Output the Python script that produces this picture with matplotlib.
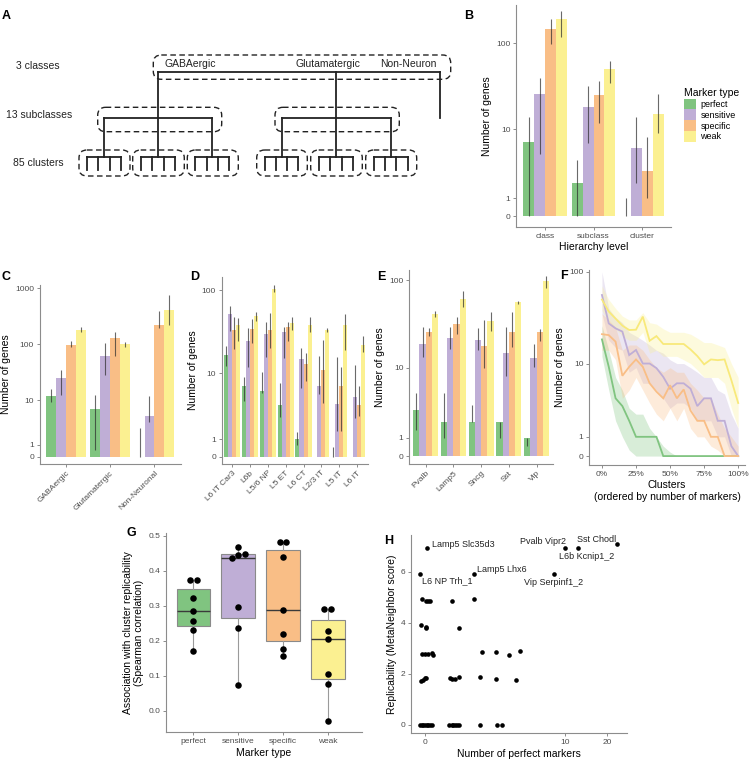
import numpy as np
import matplotlib.pyplot as plt
from matplotlib.patches import FancyBboxPatch, Patch

plt.rcParams['font.family'] = ['Liberation Sans', 'DejaVu Sans']

W, H = 750, 759

markers = ["perfect", "sensitive", "specific", "weak"]
colors = ["#80c480", "#bfaed6", "#f9be86", "#fbf091"]
nan = np.nan

# B: markers per hierarchy level
b_groups = ["class", "subclass", "cluster"]
b_val = [[7.1, 2.0, 0], [25.6, 18.3, 6.0], [145, 25, 3.0], [190, 50, 15]]
b_lo = [[0, 0, 0], [5.0, 6.8, 2.0], [98, 12, 1.0], [119, 35, 9.1]]
b_hi = [[14, 4.2, 1.0], [40, 32, 14], [189, 37, 8.1], [237, 62, 26]]

# C: classes
c_groups = ["GABAergic", "Glutamatergic", "Non-Neuronal"]
c_val = [[11.9, 6.9, 0], [25, 63, 5.1], [97, 130, 220], [180, 101, 408]]
c_lo = [[9.4, 0.56, 0], [12.5, 28, 3.9], [91, 62, 193], [166, 91, 220]]
c_hi = [[15.9, 12.5, 3.0], [35, 107, 11.9], [115, 168, 396], [200, 110, 756]]

# D: glutamatergic subclasses
d_groups = ["L6 IT Car3", "L6b", "L5/6 NP", "L5 ET", "L6 CT", "L2/3 IT", "L5 IT", "L6 IT"]
d_val = [[16.7, 6.9, 6.0, 4.0, 1.0, 0, 0, 0],
         [52.5, 24.6, 29.6, 31.6, 14.9, 6.9, 4.1, 5.1],
         [33.4, 34.3, 33.4, 36, 12.9, 11, 6.9, 4.0],
         [38.7, 48.8, 104, 40.5, 38.3, 33.4, 38.3, 21.8]]
d_lo = [[12.3, 4.5, 5.6, 2.7, 0.66, nan, 0, nan],
        [32.8, 11.8, 15.9, 15.3, 6.5, 5.5, 1.56, 2.6],
        [19.7, 23.5, 20, 24.8, 8.0, 4.2, 1.55, 2.8],
        [24.6, 43.2, 96, 33.4, 31.9, 31.6, 19.1, 18.3]]
d_hi = [[21.4, 8.9, 10.3, 7.5, 1.5, nan, 0.56, nan],
        [64.8, 35, 42, 36, 20.4, 16.3, 15.6, 12.6],
        [48.4, 44.9, 53, 42, 17.4, 25.3, 12, 6.9],
        [46, 55, 116, 47.4, 48.4, 35.7, 51.6, 28.3]]

# E: GABAergic subclasses
e_groups = ["Pvalb", "Lamp5", "Sncg", "Sst", "Vip"]
e_val = [[3.0, 2.0, 2.0, 2.0, 1.0],
         [18.9, 21.7, 20.8, 14.9, 12.8],
         [25.7, 31.7, 17.8, 25.7, 25.7],
         [41, 61, 34.6, 55.9, 98.5]]
e_lo = [[1.5, 1.0, 2.0, 1.0, 0.52],
        [13.4, 16.5, 16, 8.0, 10.3],
        [23.3, 24.1, 9.8, 17.4, 20],
        [38.3, 49, 26.3, 54, 80.6]]
e_hi = [[5.0, 5.0, 3.5, 2.0, 1.0],
        [29, 29, 28.3, 29, 18.9],
        [28.3, 38.3, 35.2, 43, 27.8],
        [44.7, 75, 43.8, 57.9, 111]]

# F: clusters ordered by number of markers
f_pct = [0, 5, 10, 15, 20, 25, 30, 35, 40, 45, 50, 55, 60, 65, 70, 75, 80, 85, 90, 95, 100]
f_val = [[18.4, 9.2, 4.0, 3.2, 2.0, 1, 1, 1, 1, 0, 0, 0, 0, 0, 0, 0, 0, 0, 0, 0, 0],
         [56, 27.5, 24.3, 22.4, 12.4, 14.1, 10, 10, 8.9, 7.1, 5.2, 6.0, 6.0, 5.2, 3.2, 4.0, 4.0, 2.0, 2.0, 0.5, 0],
         [21, 20.5, 17.4, 7.3, 9.2, 11.1, 9.2, 6.0, 4.8, 4.0, 5.7, 4.0, 5.1, 2.8, 2.0, 2.0, 1.0, 1.0, 0, 0, 0],
         [50, 37, 31, 26, 23.3, 23.5, 32.6, 17.8, 20, 16.4, 16.4, 16.4, 16.4, 14.3, 12.1, 9.8, 11.1, 10.9, 11.1, 6.5, 3.5]]
f_lo = [[12, 5, 2, 1, 0.3, 0, 0, 0, 0, 0, 0, 0, 0, 0, 0, 0, 0, 0, 0, 0, 0],
        [35, 18, 15, 14, 8, 9, 6, 6, 5, 4, 3, 3.5, 3.5, 3, 2, 2, 2, 1, 1, 0, 0],
        [14, 14, 11, 4, 5, 7, 5, 3.5, 2.5, 2, 3, 2, 3, 1.5, 1, 1, 0.5, 0.3, 0, 0, 0],
        [38, 28, 24, 20, 18, 18, 22, 13, 14, 12, 12, 12, 11, 10, 8.5, 7, 7, 7, 6, 3, 1.5]]
f_hi = [[26, 14, 7, 5, 3, 2.5, 2.5, 1.5, 1, 0.5, 0.2, 0, 0, 0, 0, 0, 0, 0, 0, 0, 0],
        [100, 40, 32, 28, 22, 20, 18, 16, 14, 13, 11, 10, 10, 9, 8, 7, 7, 5, 4.5, 2.5, 1.5],
        [35, 30, 25, 14, 16, 16, 14, 11, 9, 8, 9, 8, 8, 6, 5, 4, 4, 2.5, 1.5, 1, 0.5],
        [70, 50, 40, 33, 30, 30, 36, 28, 27, 24, 22, 22, 22, 21, 19, 17, 17, 16, 15, 10, 7]]

# G: association with replicability
g_perfect = [0.373, 0.373, 0.323, 0.285, 0.257, 0.230, 0.170]
g_sensitive = [0.467, 0.448, 0.446, 0.438, 0.297, 0.236, 0.073]
g_specific = [0.481, 0.481, 0.440, 0.288, 0.221, 0.176, 0.157]
g_weak = [0.290, 0.290, 0.228, 0.205, 0.105, 0.076, -0.029]

# H: replicability vs perfect markers
h_x = [-0.11, 0.03, 0.11, 0.165, 0.94, 1.8,
       -0.14, 0.03, 0.04, 1.17,
       -0.11, 0.0, 0.11, 0.22, 0.275, 2.15, 2.93, 3.72, 4.62,
       -0.14, -0.07, 0.0, 0.03, 0.85, 0.91, 1.03, 1.2, 2.07, 2.93, 4.26,
       -0.165, -0.11, -0.055, 0.0, 0.055, 0.11, 0.165, 0.22, 0.8, 0.91, 0.97, 1.03, 1.1, 1.2, 2.07, 2.97, 3.25]
h_y = [4.94, 4.87, 4.86, 4.86, 4.87, 4.92,
       3.91, 3.84, 3.78, 3.8,
       2.76, 2.77, 2.79, 2.83, 2.74, 2.86, 2.86, 2.74, 2.9,
       1.73, 1.77, 1.82, 1.82, 1.81, 1.78, 1.78, 1.85, 1.86, 1.8, 1.77,
       0, 0, 0, 0, 0, 0, 0, 0, 0, 0, 0, 0, 0, 0, 0, 0, 0]
h_names = ["Lamp5 Slc35d3", "L6 NP Trh_1", "Lamp5 Lhx6", "Vip Serpinf1_2",
           "Pvalb Vipr2", "L6b Kcnip1_2", "Sst Chodl"]
h_name_x = [0.055, -0.165, 1.82, 8.2, 10.0, 12.3, 23.7]
h_name_y = [6.92, 5.9, 5.9, 5.9, 6.94, 6.94, 7.07]

# label placement (offset points, alignment)
h_offsets = [(3.6, 2.9, 'left'), (1.9, -4.8, 'left'), (1.9, 3.6, 'left'), (0, -5.8, 'center'),
             (0.7, 4.8, 'right'), (6.7, -6.5, 'center'), (-1, 3.8, 'right')]

AX_GRAY = '#8c8c8c'
TICK_TXT = '#4d4d4d'


def add_ax(fig, l, t, r, b):
    return fig.add_axes([l / W, 1 - b / H, (r - l) / W, (b - t) / H])


def style(ax):
    for s in ['top', 'right']:
        ax.spines[s].set_visible(False)
    for s in ['left', 'bottom']:
        ax.spines[s].set_color(AX_GRAY)
        ax.spines[s].set_linewidth(0.8)
    ax.tick_params(labelsize=6, length=2.5, width=0.7, color=AX_GRAY,
                   labelcolor=TICK_TXT, pad=1.5)


def pseudo_log_y(ax, ticks):
    ax.set_yscale('function', functions=(lambda v: np.arcsinh(np.asarray(v) / 2),
                                         lambda t: 2 * np.sinh(t)))
    ax.set_yticks(ticks)
    ax.set_yticklabels([str(t) for t in ticks])
    ax.minorticks_off()


def bar_panel(ax, groups, vals, lo, hi, ylim, ticks):
    x = np.arange(len(groups))
    w = 0.225
    for i in range(4):
        xs = x + (i - 1.5) * w
        ax.bar(xs, vals[i], width=w, color=colors[i], linewidth=0)
        for xx, a, b in zip(xs, lo[i], hi[i]):
            if not np.isnan(a):
                ax.vlines(xx, a, b, color='#2b2b2b', lw=0.8, alpha=0.7)
    pseudo_log_y(ax, ticks)
    ax.set_ylim(*ylim)
    ax.set_xlim(-0.6, len(groups) - 0.4)
    ax.set_xticks(x)
    style(ax)
    ax.set_ylabel("Number of genes", fontsize=7.5, labelpad=3)


def panel_letter(fig, x, y, s):
    fig.text(x / W, 1 - y / H, s, fontsize=9, weight='bold', va='center', ha='left')


fig = plt.figure(figsize=(7.5, 7.59), dpi=100)

# ---- A: hierarchy schematic
ax_a = add_ax(fig, 0, 0, 470, 240)
ax_a.set_xlim(0, 470)
ax_a.set_ylim(240, 0)
ax_a.axis('off')


def dashed_box(x0, x1, y0, y1):
    ax_a.add_patch(FancyBboxPatch((x0, y0), x1 - x0, y1 - y0,
                                  boxstyle="round,pad=0,rounding_size=8",
                                  fill=False, ec='#222222', lw=1.0, ls=(0, (4, 2.5))))


lk = dict(color='#222222', lw=1.3)
cluster_boxes = [(79, 130), (132.7, 184.3), (187.3, 238.3), (256.7, 307.3), (310.7, 362.3), (365.7, 416.7)]
centers = []
for x0, x1 in cluster_boxes:
    dashed_box(x0, x1, 150, 176)
    leaves = np.linspace(x0 + 8, x1 - 9, 4)
    ax_a.plot([leaves[0], leaves[-1]], [156.7, 156.7], **lk)
    for lx in leaves:
        ax_a.plot([lx, lx], [156.7, 170], **lk)
    centers.append((leaves[0] + leaves[-1]) / 2)

dashed_box(97.7, 221.7, 107.3, 131.7)
dashed_box(275, 399.3, 107.3, 131.7)
dashed_box(153.3, 450.7, 55, 79.3)
for grp in [centers[:3], centers[3:]]:
    ax_a.plot([grp[0], grp[2]], [117.7, 117.7], **lk)
    for cx in grp:
        ax_a.plot([cx, cx], [117.7, 156.7], **lk)
ax_a.plot([centers[1], 440], [71.7, 71.7], **lk)
ax_a.plot([centers[1], centers[1]], [71.7, 117.7], **lk)
ax_a.plot([centers[4], centers[4]], [71.7, 117.7], **lk)
ax_a.plot([440, 440], [71.7, 117.7], **lk)

tk = dict(fontsize=7.5, va='center', color='#222222')
ax_a.text(37.5, 66, "3 classes", ha='center', **tk)
ax_a.text(39, 115, "13 subclasses", ha='center', **tk)
ax_a.text(38.3, 163.3, "85 clusters", ha='center', **tk)
ax_a.text(164.3, 64.3, "GABAergic", ha='left', **tk)
ax_a.text(295, 64.3, "Glutamatergic", ha='left', **tk)
ax_a.text(380, 64.3, "Non-Neuron", ha='left', **tk)

# ---- B
ax_b = add_ax(fig, 516, 5, 671, 227)
bar_panel(ax_b, b_groups, b_val, b_lo, b_hi, (-0.577, 276), [0, 1, 10, 100])
ax_b.set_xticklabels(b_groups)
ax_b.set_xlabel("Hierarchy level", fontsize=7.5, labelpad=2)
handles = [Patch(facecolor=c, edgecolor='none') for c in colors]
fig.legend(handles, markers, title="Marker type", loc='upper left',
           bbox_to_anchor=(676 / W, 1 - 80 / H), frameon=False, fontsize=6.5,
           title_fontsize=7.5, handlelength=1.3, handleheight=1.4,
           labelspacing=0.05, handletextpad=0.5, alignment='left')

# ---- C
ax_c = add_ax(fig, 39.5, 285, 181, 464)
bar_panel(ax_c, c_groups, c_val, c_lo, c_hi, (-0.609, 1141), [0, 1, 10, 100, 1000])
ax_c.set_xticklabels(c_groups, rotation=45, ha='right', rotation_mode='anchor')

# ---- D
ax_d = add_ax(fig, 221.6, 277, 367.6, 464)
bar_panel(ax_d, d_groups, d_val, d_lo, d_hi, (-0.405, 145), [0, 1, 10, 100])
ax_d.set_xticklabels(d_groups, rotation=45, ha='right', rotation_mode='anchor')

# ---- E
ax_e = add_ax(fig, 409, 270, 553.3, 464)
bar_panel(ax_e, e_groups, e_val, e_lo, e_hi, (-0.42, 130), [0, 1, 10, 100])
ax_e.set_xticklabels(e_groups, rotation=45, ha='right', rotation_mode='anchor')

# ---- F
ax_f = add_ax(fig, 589, 270, 745, 465)
fx = np.array(f_pct) / 100
for i in range(4):
    ax_f.fill_between(fx, f_lo[i], f_hi[i], color=colors[i], alpha=0.3, lw=0)
for i in [0, 1, 3, 2]:
    ax_f.plot(fx, f_val[i], color=colors[i] if i != 3 else '#f8e97a', lw=1.3,
              solid_joinstyle='miter')
pseudo_log_y(ax_f, [0, 1, 10, 100])
ax_f.set_ylim(-0.45, 104.6)
ax_f.set_xlim(-0.095, 1.05)
ax_f.set_xticks([0, 0.25, 0.5, 0.75, 1.0])
ax_f.set_xticklabels(["0%", "25%", "50%", "75%", "100%"])
style(ax_f)
ax_f.set_ylabel("Number of genes", fontsize=7.5, labelpad=3)
ax_f.set_xlabel("Clusters\n(ordered by number of markers)", fontsize=7.5, labelpad=2)

# ---- G
ax_g = add_ax(fig, 165.7, 533, 362.3, 732.3)
g_data = [g_perfect, g_sensitive, g_specific, g_weak]
bp = ax_g.boxplot(g_data, positions=range(4), widths=0.75, patch_artist=True,
                  showcaps=False, showfliers=False,
                  medianprops=dict(color='#3a3a3a', lw=1.0),
                  boxprops=dict(edgecolor='#8a8a8a', lw=0.8),
                  whiskerprops=dict(color='#9a9a9a', lw=0.8))
for patch, c in zip(bp['boxes'], colors):
    patch.set_facecolor(c)
for i, vals in enumerate(g_data):
    sv = np.sort(vals)
    groups, cur = [], [sv[0]]
    for v in sv[1:]:
        if v - cur[-1] < 0.012:
            cur.append(v)
        else:
            groups.append(cur)
            cur = [v]
    groups.append(cur)
    for grp in groups:
        n = len(grp)
        offs = (np.arange(n) - (n - 1) / 2) * 0.15
        ax_g.scatter(i + offs, grp, s=22, color='black', zorder=5, linewidths=0)
ax_g.set_xlim(-0.62, 3.77)
ax_g.set_ylim(-0.061, 0.508)
ax_g.set_yticks([0.0, 0.1, 0.2, 0.3, 0.4, 0.5])
ax_g.set_yticklabels(["0.0", "0.1", "0.2", "0.3", "0.4", "0.5"])
ax_g.set_xticks(range(4))
ax_g.set_xticklabels(markers)
style(ax_g)
ax_g.set_ylabel("Association with cluster replicability\n(Spearman correlation)",
                fontsize=7.5, labelpad=3)
ax_g.set_xlabel("Marker type", fontsize=7.5, labelpad=2)

# ---- H
ax_h = add_ax(fig, 411, 535, 626.7, 733.3)
ax_h.set_xscale('function', functions=(lambda v: np.arcsinh(np.asarray(v) / 2),
                                       lambda t: 2 * np.sinh(t)))
ax_h.scatter(h_x, h_y, s=11, color='black', linewidths=0)
ax_h.scatter(h_name_x, h_name_y, s=11, color='black', linewidths=0)
for name, x, y, (dx, dy, ha) in zip(h_names, h_name_x, h_name_y, h_offsets):
    ax_h.annotate(name, (x, y), xytext=(dx, dy), textcoords='offset points',
                  ha=ha, va='center', fontsize=6.5, color='#222222')
ax_h.set_xlim(-0.46, 27.7)
ax_h.set_ylim(-0.34, 7.44)
ax_h.set_xticks([0, 10, 20])
ax_h.set_xticklabels(["0", "10", "20"])
ax_h.minorticks_off()
ax_h.set_yticks([0, 2, 4, 6])
style(ax_h)
ax_h.set_ylabel("Replicability (MetaNeighbor score)", fontsize=7.5, labelpad=3)
ax_h.set_xlabel("Number of perfect markers", fontsize=7.5, labelpad=2)

panel_letter(fig, 2, 16, "A")
panel_letter(fig, 464, 16, "B")
panel_letter(fig, 2, 277, "C")
panel_letter(fig, 190, 277, "D")
panel_letter(fig, 377, 277, "E")
panel_letter(fig, 560, 276, "F")
panel_letter(fig, 126, 533, "G")
panel_letter(fig, 384, 541, "H")

fig.savefig("out.png", dpi=100)
